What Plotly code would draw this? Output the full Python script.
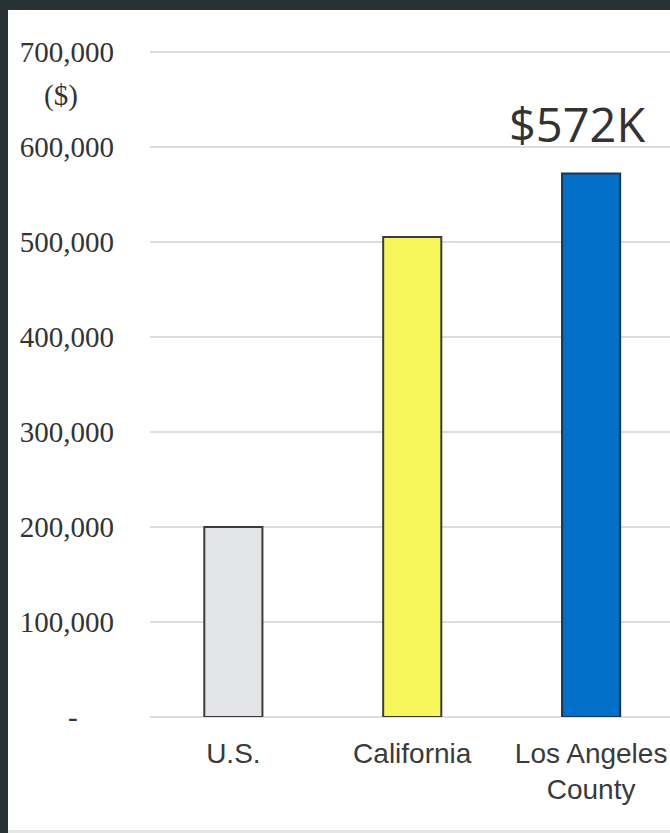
import plotly.graph_objects as go

# Median home values by geography
categories = ["U.S.", "California", "Los Angeles<br>County"]
values = [200000, 505000, 572000]
bar_colors = ["#e3e4e8", "#f6f65a", "#0270c9"]
line_colors = ["#3c3c3c", "#3c3c3c", "#1d3550"]

tick_vals = [0, 100000, 200000, 300000, 400000, 500000, 600000, 700000]
tick_text = ["-" + "\u00a0" * 5] + [f"{v:,}" for v in tick_vals[1:]]

W, H = 670, 833
M_L, M_R, M_T, M_B = 150, 0, 48, 116
Y_MAX = 704000

fig = go.Figure(
    go.Bar(
        x=list(range(len(categories))),
        y=values,
        marker=dict(color=bar_colors, line=dict(color=line_colors, width=2)),
        width=0.325,
        hoverinfo="skip",
    )
)

# Callout for the Los Angeles County value
la_value = values[2]
fig.add_annotation(
    x=2, y=624000, xref="x", yref="y",
    text=f"${la_value / 1000:.0f}K",
    showarrow=False, xshift=-14, yanchor="middle",
    font=dict(family="Open Sans", size=47, color="#333333"),
)

# pixel -> paper helpers for items placed outside the plot area
plot_h = H - M_T - M_B
plot_w = W - M_L - M_R
def px_x(px):
    return (px - M_L) / plot_w
def px_y(py):
    return (H - M_B - py) / plot_h

# Units note under the top tick label
fig.add_annotation(
    x=px_x(61), y=px_y(95), xref="paper", yref="paper",
    xanchor="center", yanchor="middle",
    text="($)", showarrow=False,
    font=dict(family="Liberation Serif", size=29, color="#333333"),
)

# Dark slide frame along the top and left edges, thin grey rule at the bottom
frame = "#283133"
fig.add_shape(type="rect", xref="paper", yref="paper",
              x0=px_x(0), x1=px_x(W), y0=px_y(10), y1=px_y(0),
              fillcolor=frame, line=dict(width=0), layer="above")
fig.add_shape(type="rect", xref="paper", yref="paper",
              x0=px_x(0), x1=px_x(8), y0=px_y(H), y1=px_y(0),
              fillcolor=frame, line=dict(width=0), layer="above")
fig.add_shape(type="rect", xref="paper", yref="paper",
              x0=px_x(8), x1=px_x(W), y0=px_y(H), y1=px_y(H - 3),
              fillcolor="#e6e6e6", line=dict(width=0), layer="above")

fig.update_layout(
    width=W, height=H,
    margin=dict(l=M_L, r=M_R, t=M_T, b=M_B, pad=0),
    paper_bgcolor="white", plot_bgcolor="white",
    showlegend=False,
    xaxis=dict(
        range=[-0.466, 2.441],
        tickvals=list(range(len(categories))),
        ticktext=categories,
        showgrid=False, zeroline=False, showline=False, ticks="",
        ticklabelstandoff=17,
        tickfont=dict(family="Liberation Sans", size=28, color="#3a3a3a"),
        fixedrange=True,
    ),
    yaxis=dict(
        range=[0, Y_MAX],
        tickvals=tick_vals, ticktext=tick_text,
        showgrid=True, gridcolor="#dddddd", gridwidth=2,
        zeroline=True, zerolinecolor="#dddddd", zerolinewidth=2,
        showline=False, ticks="",
        ticklabelstandoff=35,
        tickfont=dict(family="Liberation Serif", size=29, color="#333333"),
        fixedrange=True,
    ),
)

fig.write_html("out.html", config={"displayModeBar": False})
